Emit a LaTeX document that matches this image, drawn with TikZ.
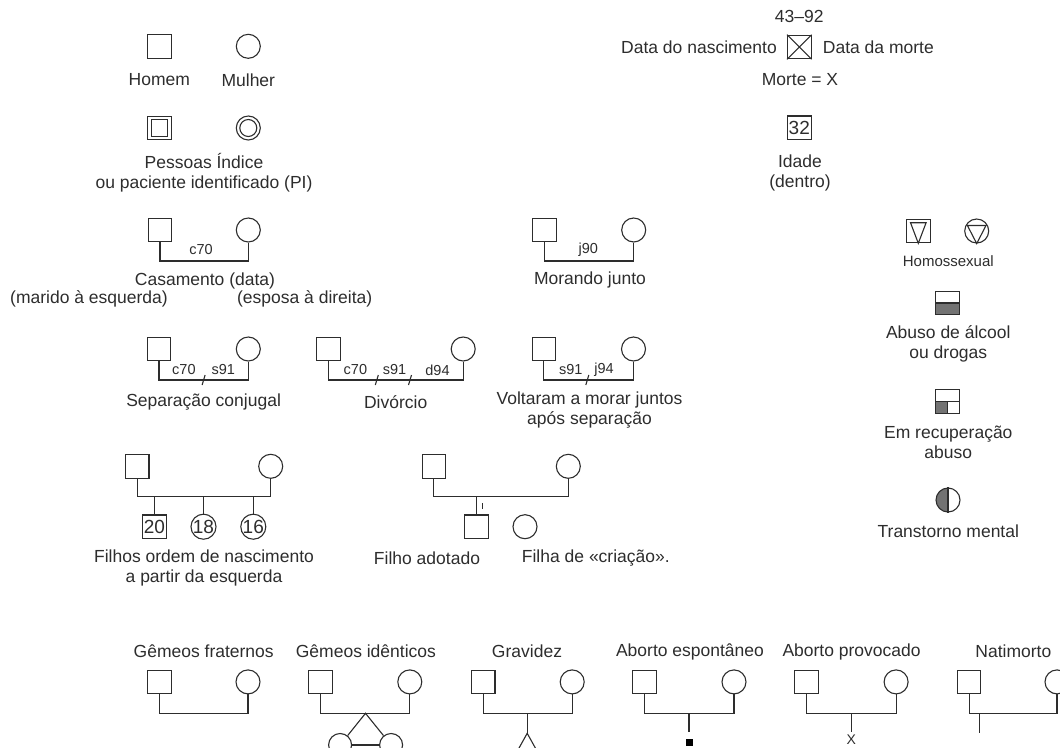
\documentclass[tikz,border=0pt]{standalone}
\usepackage{fontspec}
\setmainfont{Liberation Sans}
\usetikzlibrary{calc}
\definecolor{lc}{RGB}{45,45,45}
\definecolor{tc}{RGB}{45,45,45}
\definecolor{fc}{RGB}{115,115,115}
\tikzset{
  ln/.style={draw=lc, line width=1.1pt},
  male/.style={draw=lc, line width=1.1pt, rectangle, minimum size=23.5pt, inner sep=0pt},
  female/.style={draw=lc, line width=1.1pt, circle, minimum size=24pt, inner sep=0pt},
  txt/.style={text=tc, inner sep=0pt, font=\fontsize{17.5}{20}\selectfont, align=center},
  lbl/.style={text=tc, inner sep=0pt, font=\fontsize{14.5}{17}\selectfont},
  smalltxt/.style={text=tc, inner sep=0pt, font=\fontsize{15}{17}\selectfont},
  num/.style={text=tc, font=\fontsize{19}{20}\selectfont},
}
\begin{document}
\begin{tikzpicture}[x=1pt,y=-1pt]
\useasboundingbox (0,0) rectangle (1060,747);
\clip (0,0) rectangle (1060,747);

% ---------- Homem / Mulher ----------
\node[male] (hm) at (159.3,46.3) {};
\node[female] (mu) at (248.3,46.3) {};
\node[txt] (thm) at (159.3,80) {Homem};
\node[txt] (tmu) at (248.3,80) {Mulher};

% ---------- Pessoas indice ----------
\node[male] (pim) at (159.3,128) {};
\node[male, minimum size=16.5pt] (pim2) at (pim) {};
\node[female] (pif) at (248.3,128) {};
\node[female, minimum size=17pt] (pif2) at (pif) {};
\node[txt] (tpi) at (204,172.7) {Pessoas Índice\\ou paciente identificado (PI)};

% ---------- Morte ----------
\node[txt] (tdates) at (799.3,16.7) {43–92};
\node[male] (dd) at (799.3,47) {};
\draw[ln] (dd.north west) -- (dd.south east) (dd.north east) -- (dd.south west);
\node[txt, anchor=east] (tnasc) at (777,47) {Data do nascimento};
\node[txt, anchor=west] (tmorte) at (822.7,47) {Data da morte};
\node[txt] (tmx) at (800,80) {Morte = X};

% ---------- Idade ----------
\node[male, num] (age) at (799.3,127.7) {32};
\node[txt] (tage) at (800,172.5) {Idade\\(dentro)};

% ---------- Casamento ----------
\node[male] (cm) at (160,230) {};
\node[female] (cf) at (248.3,230) {};
\coordinate (cb) at (204,261);
\draw[ln] (cm.south) |- (cb) -| (cf.south);
\node[lbl] (lc70) at (201,249.5) {c70};
\node[txt] (tcas) at (205,280.7) {Casamento (data)};
\node[txt] (tmar) at (89,299) {(marido à esquerda)};
\node[txt] (tesp) at (304.7,299) {(esposa à direita)};

% ---------- Morando junto ----------
\node[male] (mjm) at (544.5,230) {};
\node[female] (mjf) at (633.7,230) {};
\coordinate (mjb) at (589,261);
\draw[ln] (mjm.south) |- (mjb) -| (mjf.south);
\node[lbl] (lj90) at (588.3,249.5) {j90};
\node[txt] (tmj) at (590,280) {Morando junto};

% ---------- Homossexual ----------
\node[male] (hs) at (918.3,231) {};
\draw[ln] ($(hs.north west)+(4.5,4)$) -- ($(hs.north east)+(-4.5,4)$) -- (hs.south) -- cycle;
\node[female] (hc) at (976.7,231) {};
\draw[ln] ($(hc.center)+(-9.3,-5.5)$) -- ($(hc.center)+(9.3,-5.5)$) -- (hc.south) -- cycle;
\node[smalltxt] (ths) at (948.3,261) {Homossexual};

% ---------- Abuso ----------
\coordinate (abc) at (947.5,303);
\fill[fc] ($(abc)+(-12,0)$) rectangle ($(abc)+(12,12)$);
\node[male] (ab) at (abc) {};
\draw[ln] (ab.west) -- (ab.east);
\node[txt] (tab) at (948.3,343.7) {Abuso de álcool\\ou drogas};

% ---------- Em recuperacao ----------
\coordinate (rcc) at (947.5,401.3);
\fill[fc] ($(rcc)+(-12,0)$) rectangle ($(rcc)+(0,12)$);
\node[male] (rc) at (rcc) {};
\draw[ln] (rc.west) -- (rc.east) (rc.center) -- (rc.south);
\node[txt] (trc) at (948.3,442.3) {Em recuperação\\abuso};

% ---------- Transtorno mental ----------
\coordinate (mtc) at (948,500);
\begin{scope}
  \clip ($(mtc)+(-13,-13)$) rectangle ($(mtc)+(0,13)$);
  \fill[fc] (mtc) circle[radius=12];
\end{scope}
\node[female] (mt) at (mtc) {};
\draw[ln] (mt.north) -- (mt.south);
\node[txt] (tmt) at (948.3,531.7) {Transtorno mental};

% ---------- Separacao conjugal ----------
\node[male] (sm) at (159,349) {};
\node[female] (sf) at (248.3,349) {};
\coordinate (sb) at (203.6,380);
\draw[ln] (sm.south) |- (sb) -| (sf.south);
\draw[ln] (202.1,385) -- (205.1,375);
\node[lbl] (sc70) at (183.9,370) {c70};
\node[lbl] (ss91) at (223.2,370) {s91};
\node[txt] (tsep) at (203.6,402) {Separação conjugal};

% ---------- Divorcio ----------
\node[male] (dm) at (328.5,349) {};
\node[female] (df) at (463.2,349) {};
\coordinate (db) at (395.7,380);
\draw[ln] (dm.south) |- (db) -| (df.south);
\draw[ln] (375.3,385) -- (378.3,375);
\draw[ln] (408.5,385) -- (411.5,375);
\node[lbl] (dc70) at (355.4,370) {c70};
\node[lbl] (ds91) at (394.6,370) {s91};
\node[lbl] (dd94) at (437.5,370) {d94};
\node[txt] (tdiv) at (395.7,402) {Divórcio};

% ---------- Voltaram ----------
\node[male] (vm) at (543.8,349) {};
\node[female] (vf) at (633.5,349) {};
\coordinate (vb) at (588.6,380);
\draw[ln] (vm.south) |- (vb) -| (vf.south);
\draw[ln] (585.8,385) -- (588.8,375);
\node[lbl] (vs91) at (570.7,370) {s91};
\node[lbl] (vj94) at (604,370) {j94};
\node[txt] (tvol) at (589.5,410.5) {Voltaram a morar juntos\\após separação};

% ---------- Filhos ----------
\node[male] (fm) at (137.2,466.3) {};
\node[female] (ff) at (270.7,466.3) {};
\coordinate (fb) at (204,496.7);
\draw[ln] (fm.south) |- (fb) -| (ff.south);
\node[male, num] (k1) at (154.5,526.7) {20};
\node[female, num] (k2) at (203.5,526.7) {18};
\node[female, num] (k3) at (253.3,526.7) {16};
\draw[ln] (k1.north) -- (k1.north |- fb);
\draw[ln] (k2.north) -- (k2.north |- fb);
\draw[ln] (k3.north) -- (k3.north |- fb);
\node[txt] (tfil) at (204,568.3) {Filhos ordem de nascimento\\a partir da esquerda};

% ---------- Adotado ----------
\node[male] (am) at (433.8,466.3) {};
\node[female] (af) at (568.3,466.3) {};
\coordinate (ab2) at (500,496.7);
\draw[ln] (am.south) |- (ab2) -| (af.south);
\node[male] (ad) at (476.5,526.7) {};
\draw[ln] (ad.north) -- (ad.north |- ab2);
\draw[ln, line width=0.9pt] ($(ad.north)+(5.5,-11)$) -- ($(ad.north)+(5.5,-5)$);
\node[female] (cr) at (525,526.7) {};
\node[txt] (tad) at (427,558.3) {Filho adotado};
\node[txt, anchor=west] (tcr) at (521.7,558.3) {Filha de «criação».};

% ---------- Bottom row ----------
% Gemeos fraternos
\node[txt] (tgf) at (203.7,651.6) {Gêmeos fraternos};
\node[male] (gfm) at (159.6,681.9) {};
\node[female] (gff) at (248,681.9) {};
\coordinate (gfb) at (203.8,713.3);
\draw[ln] (gfm.south) |- (gfb) -| (gff.south);

% Gemeos identicos
\node[txt] (tgi) at (365.9,651.6) {Gêmeos idênticos};
\node[male] (gim) at (320.6,681.9) {};
\node[female] (gif) at (409.8,681.9) {};
\coordinate (gib) at (365.5,713.3);
\draw[ln] (gim.south) |- (gib) -| (gif.south);
\node[female, minimum size=23pt] (tw1) at (340.1,745) {};
\node[female, minimum size=23pt] (tw2) at (391.1,745) {};
\draw[ln] (tw1) -- (gib) -- (tw2);
\draw[ln] (tw1) -- (tw2);

% Gravidez
\node[txt] (tgr) at (527,651.6) {Gravidez};
\node[male] (grm) at (483.2,681.9) {};
\node[female] (grf) at (572.2,681.9) {};
\coordinate (grb) at (527.2,713.3);
\draw[ln] (grm.south) |- (grb) -| (grf.south);
\coordinate (grp) at (527.2,733.3);
\draw[ln] (grb) -- (grp);
\draw[ln] ($(grp)+(-10,18)$) -- (grp) -- ($(grp)+(10,18)$);

% Aborto espontaneo
\node[txt] (tae) at (690,651.6) {Aborto espontâneo};
\node[male] (aem) at (644.5,681.9) {};
\node[female] (aef) at (734,681.9) {};
\coordinate (aeb) at (689,713.3);
\draw[ln] (aem.south) |- (aeb) -| (aef.south);
\node[fill=black, minimum size=7pt, inner sep=0pt] (aes) at (689,742) {};
\draw[ln] (aeb) -- ([yshift=6pt]aes.north);

% Aborto provocado
\node[txt] (tap) at (851.6,651.6) {Aborto provocado};
\node[male] (apm) at (806.4,681.9) {};
\node[female] (apf) at (896.1,681.9) {};
\coordinate (apb) at (851.3,713.3);
\draw[ln] (apm.south) |- (apb) -| (apf.south);
\node[txt, font=\fontsize{14}{16}\selectfont] (apx) at (851.3,740) {X};
\draw[ln] (apb) -- ([yshift=3pt]apx.north);

% Natimorto
\node[txt] (tnm) at (1013.4,651.6) {Natimorto};
\node[male] (nmm) at (969.1,681.9) {};
\node[female] (nmf) at (1057,681.9) {};
\coordinate (nmb) at (979.8,713.3);
\draw[ln] (nmm.south) |- (nmb) -| (nmf.south);
\coordinate (nmk) at (979.8,733.3);
\draw[ln] (nmb) -- (nmk);
\end{tikzpicture}
\end{document}
